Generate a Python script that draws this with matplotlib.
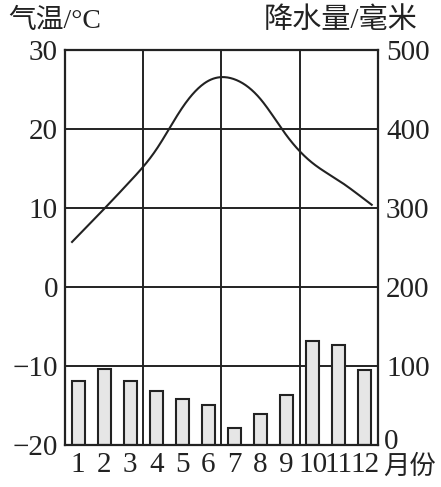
import numpy as np
import matplotlib
matplotlib.use("Agg")
import matplotlib.pyplot as plt

months = [1, 2, 3, 4, 5, 6, 7, 8, 9, 10, 11, 12]
month_labels = ["1", "2", "3", "4", "5", "6", "7", "8", "9", "10", "11", "12"]
temperature = [6.5, 9.9, 13.4, 17.4, 22.7, 26.1, 26.3, 23.8, 19.2, 15.7, 13.5, 11.1]
precipitation = [81, 96, 81, 69, 58, 51, 22, 39, 64, 132, 127, 95]
temp_ticks = [-20, -10, 0, 10, 20, 30]
prec_ticks = [0, 100, 200, 300, 400, 500]

FAM = ["Liberation Serif", "Noto Sans CJK SC", "DejaVu Sans"]
plt.rcParams["font.family"] = FAM
FS = 21
INK = "#222222"

fig = plt.figure(figsize=(4.41, 4.87), dpi=100)
fig.patch.set_facecolor("white")
ax = fig.add_axes([0.1474, 0.0856, 0.8565 - 0.1474, 0.8973 - 0.0856])

# precipitation axis (right)
ax.set_xlim(0.5, 12.5)
ax.set_ylim(0, 500)
ax.set_xticks(months)
ax.set_xticklabels(month_labels)
ax.tick_params(axis="x", length=0, pad=5, labelsize=FS, colors=INK)
for v in [100, 200, 300, 400]:
    ax.axhline(v, color=INK, lw=1.4, zorder=1)
for v in [3.5, 6.5, 9.5]:
    ax.axvline(v, color=INK, lw=1.4, zorder=1)
ax.bar(months, precipitation, width=0.5, color="#e6e6e6", edgecolor=INK,
       linewidth=1.5, zorder=2)
for s in ax.spines.values():
    s.set_linewidth(1.6)
    s.set_color(INK)

# temperature axis (left)
axT = ax.twinx()
axT.set_ylim(-20, 30)
axT.set_yticks(temp_ticks)
axT.yaxis.tick_left()
axT.tick_params(axis="y", length=0, pad=5, labelsize=FS, colors=INK)
for s in axT.spines.values():
    s.set_visible(False)

ax.set_yticks(prec_ticks)
ax.set_yticklabels([""] + [str(v) for v in prec_ticks[1:]])
ax.yaxis.tick_right()
ax.tick_params(axis="y", length=0, pad=6, labelsize=FS, colors=INK)
ax.annotate(str(prec_ticks[0]), xy=(1, prec_ticks[0]),
            xycoords=("axes fraction", "data"), xytext=(6, 3),
            textcoords="offset pixels", fontsize=FS, color=INK,
            ha="left", va="center")

# smooth curve through monthly temperatures (natural cubic spline)
x = np.array(months, float)
y = np.array(temperature, float)
n = len(x)
h = np.diff(x)
A = np.zeros((n, n)); b = np.zeros(n)
A[0, 0] = A[-1, -1] = 1
for i in range(1, n - 1):
    A[i, i - 1] = h[i - 1]; A[i, i] = 2 * (h[i - 1] + h[i]); A[i, i + 1] = h[i]
    b[i] = 3 * ((y[i + 1] - y[i]) / h[i] - (y[i] - y[i - 1]) / h[i - 1])
c = np.linalg.solve(A, b)
bb = np.array([(y[i + 1] - y[i]) / h[i] - h[i] * (2 * c[i] + c[i + 1]) / 3 for i in range(n - 1)])
d = np.array([(c[i + 1] - c[i]) / (3 * h[i]) for i in range(n - 1)])
xs = np.linspace(0.77, 12.27, 400)
idx = np.clip(np.searchsorted(x, xs) - 1, 0, n - 2)
dx = xs - x[idx]
ys = y[idx] + bb[idx] * dx + c[idx] * dx ** 2 + d[idx] * dx ** 3
axT.plot(xs, ys, color=INK, lw=1.5, zorder=5)

fig.text(8 / 441, 1 - 21 / 487, "气温/°C", fontsize=20, color=INK, ha="left", va="center")
fig.text(417 / 441, 1 - 21 / 487, "降水量/毫米", fontsize=FS, color=INK, ha="right", va="center")
fig.text(383 / 441, 1 - 467 / 487, "月份", fontsize=19, color=INK, ha="left", va="center")

fig.savefig("out.png", dpi=100, facecolor="white")
